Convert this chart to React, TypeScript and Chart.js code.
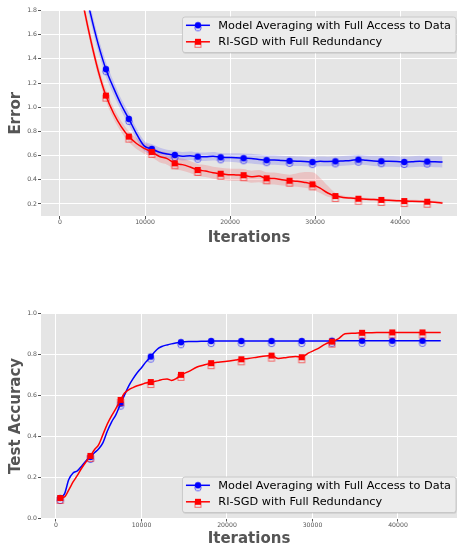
import React, { useEffect, useRef } from "react";
import { Chart, registerables } from "chart.js";

Chart.register(...registerables);

const FONT = "DejaVu Sans";

// ---------- data ----------
const seriesLabels = ["Model Averaging with Full Access to Data", "RI-SGD with Full Redundancy"];

const xTickValues = [0, 10000, 20000, 30000, 40000];
const topYTickValues = [0.2, 0.4, 0.6, 0.8, 1.0, 1.2, 1.4, 1.6, 1.8];
const bottomYTickValues = [0.0, 0.2, 0.4, 0.6, 0.8, 1.0];

const topIterations = [
  0, 900, 1800, 2700, 3600, 4500, 5400, 6300, 7200, 8100, 9000, 9900, 10800, 11700, 12600, 13500, 14400,
  15300, 16200, 17100, 18000, 18900, 19800, 20700, 21600, 22500, 23400, 24300, 25200, 26100, 27000, 27900,
  28800, 29700, 30600, 31500, 32400, 33300, 34200, 35100, 36000, 36900, 37800, 38700, 39600, 40500, 41400,
  42300, 43200, 44100, 45000,
];
const topMarkerIterations = [
  5400, 8100, 10800, 13500, 16200, 18900, 21600, 24300, 27000, 29700, 32400, 35100, 37800, 40500, 43200,
];
const topModelAvgError = [
  3.0, 2.75, 2.45, 2.05, 1.77, 1.52, 1.315, 1.16, 1.02, 0.903, 0.78, 0.68, 0.655, 0.628, 0.612, 0.605, 0.595,
  0.598, 0.591, 0.59, 0.594, 0.586, 0.584, 0.582, 0.578, 0.575, 0.568, 0.562, 0.563, 0.559, 0.556, 0.553,
  0.551, 0.546, 0.552, 0.551, 0.552, 0.556, 0.56, 0.566, 0.561, 0.556, 0.553, 0.552, 0.55, 0.547, 0.549,
  0.553, 0.55, 0.549, 0.547,
];
const topModelAvgSpread = [
  0.06, 0.06, 0.06, 0.06, 0.06, 0.06, 0.06, 0.055, 0.05, 0.05, 0.045, 0.042, 0.04, 0.038, 0.036, 0.035, 0.035,
  0.035, 0.035, 0.035, 0.035, 0.035, 0.035, 0.038, 0.04, 0.04, 0.04, 0.04, 0.04, 0.04, 0.04, 0.04,
  0.04, 0.04, 0.04, 0.04, 0.04, 0.04, 0.04, 0.04, 0.04, 0.042, 0.044, 0.045, 0.045, 0.045, 0.045,
  0.045, 0.045, 0.045, 0.045,
];
const topRiSgdError = [
  2.9, 2.6, 2.2, 1.86, 1.56, 1.3, 1.096, 0.95, 0.84, 0.757, 0.70, 0.66, 0.63, 0.592, 0.575, 0.536, 0.525,
  0.505, 0.481, 0.472, 0.458, 0.45, 0.442, 0.44, 0.438, 0.425, 0.43, 0.412, 0.41, 0.4, 0.392, 0.388,
  0.378, 0.362, 0.33, 0.29, 0.265, 0.254, 0.248, 0.243, 0.239, 0.236, 0.233, 0.23, 0.227, 0.224, 0.222,
  0.22, 0.218, 0.214, 0.208,
];
const topRiSgdSpreadUp = [
  0.05, 0.05, 0.05, 0.05, 0.05, 0.05, 0.05, 0.048, 0.046, 0.045, 0.045, 0.045, 0.045, 0.048, 0.05, 0.05, 0.05,
  0.05, 0.05, 0.05, 0.05, 0.05, 0.05, 0.05, 0.05, 0.05, 0.05, 0.05, 0.05, 0.05, 0.05, 0.065,
  0.085, 0.1, 0.085, 0.06, 0.025, 0.015, 0.012, 0.012, 0.012, 0.012, 0.012, 0.012, 0.012, 0.012, 0.012,
  0.012, 0.012, 0.012, 0.012,
];
const topRiSgdSpreadDown = [
  0.045, 0.045, 0.045, 0.045, 0.045, 0.045, 0.045, 0.045, 0.045, 0.045, 0.045, 0.045, 0.045, 0.048, 0.05, 0.05, 0.05,
  0.05, 0.05, 0.05, 0.05, 0.05, 0.05, 0.05, 0.05, 0.05, 0.05, 0.05, 0.05, 0.048, 0.045, 0.045,
  0.045, 0.045, 0.04, 0.03, 0.015, 0.01, 0.01, 0.01, 0.01, 0.01, 0.01, 0.01, 0.01, 0.01, 0.01,
  0.01, 0.01, 0.01, 0.01,
];

const bottomIterations = [
  500, 1000, 1500, 2000, 2500, 3000, 3500, 4030, 4500, 5000, 5500, 6000, 6500, 7000, 7560, 8000, 8500, 9000,
  9500, 10000, 10500, 11090, 11500, 12000, 12500, 13000, 13500, 14000, 14620, 15500, 16500, 17300, 18150,
  19000, 20000, 21000, 21680, 22500, 23500, 24500, 25210, 26000, 27000, 28000, 28740, 29500, 30500, 31500,
  32270, 33000, 33800, 34800, 35800, 37500, 39330, 41000, 42860, 45000,
];
const bottomMarkerIterations = [
  500, 4030, 7560, 11090, 14620, 18150, 21680, 25210, 28740, 32270, 35800, 39330, 42860,
];
const bottomModelAvgAccuracy = [
  0.1, 0.12, 0.19, 0.222, 0.232, 0.255, 0.28, 0.3, 0.32, 0.34, 0.37, 0.425, 0.47, 0.505, 0.56, 0.6, 0.645, 0.68,
  0.71, 0.735, 0.762, 0.789, 0.81, 0.83, 0.84, 0.846, 0.851, 0.855, 0.859, 0.862, 0.863, 0.864, 0.865,
  0.865, 0.865, 0.865, 0.865, 0.865, 0.865, 0.865, 0.865, 0.865, 0.865, 0.865, 0.865, 0.865, 0.865, 0.865,
  0.866, 0.866, 0.866, 0.866, 0.866, 0.866, 0.866, 0.866, 0.866, 0.866,
];
const bottomRiSgdAccuracy = [
  0.1, 0.105, 0.14, 0.178, 0.21, 0.245, 0.275, 0.305, 0.335, 0.36, 0.41, 0.46, 0.5, 0.535, 0.578, 0.61, 0.627,
  0.638, 0.647, 0.653, 0.66, 0.665, 0.668, 0.672, 0.678, 0.68, 0.673, 0.68, 0.7, 0.716, 0.738, 0.748, 0.757,
  0.762, 0.766, 0.772, 0.776, 0.78, 0.786, 0.792, 0.794, 0.78, 0.785, 0.79, 0.786, 0.806, 0.825, 0.85,
  0.862, 0.875, 0.9, 0.903, 0.905, 0.906, 0.907, 0.907, 0.907, 0.907,
];

// ---------- helpers ----------
function makeMarker(shape: "circle" | "square", fill: string, hollow: string) {
  const c = document.createElement("canvas");
  const w = 12;
  const h = 16;
  c.width = w;
  c.height = h;
  const g = c.getContext("2d")!;
  const cx = w / 2;
  const cy = h / 2;
  const off = 2.5;
  g.lineWidth = 1;
  g.strokeStyle = hollow;
  g.fillStyle = fill;
  if (shape === "circle") {
    const r = 3.2;
    g.beginPath();
    g.arc(cx, cy + off, r, 0, Math.PI * 2);
    g.stroke();
    g.beginPath();
    g.arc(cx, cy, r, 0, Math.PI * 2);
    g.fill();
  } else {
    const s = 6;
    g.strokeRect(cx - s / 2, cy + off - s / 2, s, s);
    g.fillRect(cx - s / 2, cy - s / 2, s, s);
  }
  return c;
}

const plotBg = {
  id: "plotBg",
  beforeDraw(chart: any) {
    const { ctx, chartArea: a } = chart;
    ctx.save();
    ctx.fillStyle = "#E5E5E5";
    ctx.fillRect(a.left, a.top, a.right - a.left, a.bottom - a.top);
    ctx.restore();
  },
};

const mplLegend = {
  id: "mplLegend",
  afterDraw(chart: any, _args: any, opts: any) {
    const { ctx, chartArea: a } = chart;
    const items = opts.items || [];
    const fs = 11.3;
    ctx.save();
    ctx.font = `${fs}px "${FONT}"`;
    let textW = 0;
    for (const it of items) textW = Math.max(textW, ctx.measureText(it.label).width);
    const padL = 3.5;
    const handle = 24;
    const gap = 8.4;
    const padR = 5;
    const w = padL + handle + gap + textW + padR;
    const h = 35.5;
    const right = a.right - 1;
    const left = right - w;
    const top = opts.loc === "upper right" ? a.top + 6.5 : a.bottom - 6 - h;
    ctx.fillStyle = "rgba(0,0,0,0.10)";
    ctx.beginPath();
    (ctx as any).roundRect(left + 0.5, top + 1.2, w, h, 2.5);
    ctx.fill();
    ctx.fillStyle = "#ECECEC";
    ctx.strokeStyle = "#C2C2C2";
    ctx.lineWidth = 0.8;
    ctx.beginPath();
    (ctx as any).roundRect(left, top, w, h, 2.5);
    ctx.fill();
    ctx.stroke();
    items.forEach((it: any, i: number) => {
      const y = top + 8.3 + i * 16.5;
      const x0 = left + padL;
      ctx.strokeStyle = it.color;
      ctx.lineWidth = 1.5;
      ctx.beginPath();
      ctx.moveTo(x0, y);
      ctx.lineTo(x0 + handle, y);
      ctx.stroke();
      const m = it.marker as HTMLCanvasElement;
      ctx.drawImage(m, x0 + handle / 2 - m.width / 2, y - m.height / 2);
      ctx.fillStyle = "#000000";
      ctx.textBaseline = "middle";
      ctx.textAlign = "left";
      ctx.fillText(it.label, x0 + handle + gap, y + 0.5);
    });
    ctx.restore();
  },
};

function toPoints(xs: number[], ys: number[]) {
  return xs.map((x, i) => ({ x, y: ys[i] }));
}

function buildScales(o: {
  xMin: number;
  xMax: number;
  yMin: number;
  yMax: number;
  yTicks: number[];
  yTitle: string;
  xAxisHeight: number;
  xTitlePad: number;
}) {
  return {
    x: {
      type: "linear",
      min: o.xMin,
      max: o.xMax,
      afterBuildTicks: (s: any) => {
        s.ticks = xTickValues.map((v) => ({ value: v }));
      },
      afterFit: (s: any) => {
        s.height = o.xAxisHeight;
        s.paddingLeft = 0;
        s.paddingRight = 0;
        s.paddingTop = 0;
        s.paddingBottom = 0;
      },
      grid: { color: "#FFFFFF", lineWidth: 1, drawTicks: true, tickLength: 3, tickColor: "#555555" },
      border: { display: false },
      ticks: {
        font: { family: FONT, size: 6.2 },
        color: "#555555",
        padding: 0,
        maxRotation: 0,
        autoSkip: false,
        callback: (v: any) => String(v),
      },
      title: {
        display: true,
        text: "Iterations",
        font: { family: FONT, size: 15, weight: "bold" },
        color: "#555555",
        padding: { top: 0, bottom: o.xTitlePad },
      },
    },
    y: {
      type: "linear",
      min: o.yMin,
      max: o.yMax,
      afterBuildTicks: (s: any) => {
        s.ticks = o.yTicks.map((v) => ({ value: v }));
      },
      afterFit: (s: any) => {
        s.width = 41;
        s.paddingLeft = 0;
        s.paddingRight = 0;
        s.paddingTop = 0;
        s.paddingBottom = 0;
      },
      grid: { color: "#FFFFFF", lineWidth: 1, drawTicks: true, tickLength: 3, tickColor: "#555555" },
      border: { display: false },
      ticks: {
        font: { family: FONT, size: 6.2 },
        color: "#555555",
        padding: 1,
        autoSkip: false,
        callback: (v: any) => Number(v).toFixed(1),
      },
      title: {
        display: true,
        text: o.yTitle,
        font: { family: FONT, size: 15, weight: "bold" },
        color: "#555555",
        padding: { top: 6.8, bottom: 0 },
      },
    },
  };
}

export default function App() {
  const topRef = useRef<HTMLCanvasElement>(null);
  const botRef = useRef<HTMLCanvasElement>(null);

  useEffect(() => {
    Chart.defaults.font.family = FONT;
    const blueMarker = makeMarker("circle", "#0000FF", "rgba(0,0,255,0.55)");
    const redMarker = makeMarker("square", "#FF0000", "rgba(255,0,0,0.55)");
    const legendItems = [
      { label: seriesLabels[0], color: "#0000FF", marker: blueMarker },
      { label: seriesLabels[1], color: "#FF0000", marker: redMarker },
    ];

    const lineBase = {
      borderWidth: 1.5,
      fill: false,
      cubicInterpolationMode: "monotone",
      pointHoverRadius: 0,
      clip: 0,
    };
    const bandBase = {
      borderWidth: 0,
      pointRadius: 0,
      pointHoverRadius: 0,
      cubicInterpolationMode: "monotone",
      clip: 0,
    };

    const topMarkerRadius = (ctx: any) =>
      topMarkerIterations.includes(topIterations[ctx.dataIndex]) ? 4 : 0;
    const botMarkerRadius = (ctx: any) =>
      bottomMarkerIterations.includes(bottomIterations[ctx.dataIndex]) ? 4 : 0;

    const c1 = new Chart(topRef.current!, {
      type: "line",
      data: {
        datasets: [
          {
            ...lineBase,
            label: seriesLabels[1],
            data: toPoints(topIterations, topRiSgdError),
            borderColor: "#FF0000",
            pointStyle: redMarker,
            pointRadius: topMarkerRadius,
          },
          {
            ...lineBase,
            label: seriesLabels[0],
            data: toPoints(topIterations, topModelAvgError),
            borderColor: "#0000FF",
            pointStyle: blueMarker,
            pointRadius: topMarkerRadius,
          },
          {
            ...bandBase,
            label: "ma-low",
            data: toPoints(topIterations, topModelAvgError.map((v, i) => v - topModelAvgSpread[i])),
            fill: false,
          },
          {
            ...bandBase,
            label: "ma-high",
            data: toPoints(topIterations, topModelAvgError.map((v, i) => v + topModelAvgSpread[i])),
            fill: "-1",
            backgroundColor: "rgba(0,0,255,0.15)",
          },
          {
            ...bandBase,
            label: "ri-low",
            data: toPoints(topIterations, topRiSgdError.map((v, i) => v - topRiSgdSpreadDown[i])),
            fill: false,
          },
          {
            ...bandBase,
            label: "ri-high",
            data: toPoints(topIterations, topRiSgdError.map((v, i) => v + topRiSgdSpreadUp[i])),
            fill: "-1",
            backgroundColor: "rgba(255,0,0,0.15)",
          },
        ],
      } as any,
      options: {
        animation: false,
        responsive: false,
        devicePixelRatio: 1,
        events: [],
        layout: { autoPadding: false, padding: { top: 10.5, left: 0, right: 0, bottom: 0 } },
        scales: buildScales({
          xMin: -2235,
          xMax: 46700,
          yMin: 0.1,
          yMax: 1.8,
          yTicks: topYTickValues,
          yTitle: "Error",
          xAxisHeight: 59,
          xTitlePad: 28,
        }) as any,
        plugins: {
          legend: { display: false },
          tooltip: { enabled: false },
          filler: { drawTime: "beforeDatasetsDraw" },
          mplLegend: { loc: "upper right", items: legendItems },
        } as any,
      },
      plugins: [plotBg, mplLegend],
    });

    const c2 = new Chart(botRef.current!, {
      type: "line",
      data: {
        datasets: [
          {
            ...lineBase,
            label: seriesLabels[1],
            data: toPoints(bottomIterations, bottomRiSgdAccuracy),
            borderColor: "#FF0000",
            pointStyle: redMarker,
            pointRadius: botMarkerRadius,
          },
          {
            ...lineBase,
            label: seriesLabels[0],
            data: toPoints(bottomIterations, bottomModelAvgAccuracy),
            borderColor: "#0000FF",
            pointStyle: blueMarker,
            pointRadius: botMarkerRadius,
          },
        ],
      } as any,
      options: {
        animation: false,
        responsive: false,
        devicePixelRatio: 1,
        events: [],
        layout: { autoPadding: false, padding: { top: 38.3, left: 0, right: 0, bottom: 0 } },
        scales: buildScales({
          xMin: -1750,
          xMax: 46900,
          yMin: 0,
          yMax: 1,
          yTicks: bottomYTickValues,
          yTitle: "Test Accuracy",
          xAxisHeight: 30.5,
          xTitlePad: 0.7,
        }) as any,
        plugins: {
          legend: { display: false },
          tooltip: { enabled: false },
          mplLegend: { loc: "lower right", items: legendItems },
        } as any,
      },
      plugins: [plotBg, mplLegend],
    });

    return () => {
      c1.destroy();
      c2.destroy();
    };
  }, []);

  return (
    <div style={{ position: "absolute", left: 0, top: 0, width: 457, height: 549, background: "#ffffff" }}>
      <canvas ref={topRef} width={457} height={275} style={{ display: "block", width: 457, height: 275 }} />
      <canvas ref={botRef} width={457} height={274} style={{ display: "block", width: 457, height: 274 }} />
    </div>
  );
}
